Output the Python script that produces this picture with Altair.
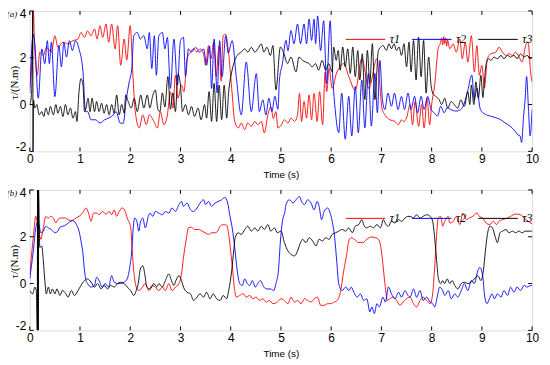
import altair as alt
import pandas as pd

SERIES = ["τ1", "τ2", "τ3"]
COLORS = ["#ff0000", "#0000ff", "#000000"]
X_TICKS = list(range(0, 11))
Y_TICKS = [-2, 0, 2, 4]

# ---------- panel (a): (time, torque) ----------
A_TAU1 = [(0.00,0.77),(0.04,1.8),(0.07,4.0),(0.10,2.38),(0.15,1.25),(0.20,2.24),(0.27,2.10),(0.33,2.45),(0.43,2.24),(0.50,2.94),(0.56,2.45),(0.66,2.66),(0.76,2.59),(0.86,2.73),(0.96,2.80),(1.02,3.08),(1.09,2.87),(1.15,3.15),(1.22,2.94),(1.29,3.23),(1.34,2.80),(1.40,3.37),(1.45,2.87),(1.52,3.44),(1.57,2.66),(1.63,3.44),(1.70,2.38),(1.75,3.37),(1.81,1.68),(1.88,2.80),(1.93,1.90),(2.00,3.37),(2.05,1.39),(2.10,-0.30),(2.18,-1.00),(2.25,-0.44),(2.32,-0.86),(2.38,-0.44),(2.47,-0.72),(2.54,-1.00),(2.60,-0.30),(2.67,-0.86),(2.74,-0.44),(2.80,0.55),(2.85,-0.15),(2.90,1.25),(2.95,0.27),(3.02,0.83),(3.07,0.55),(3.13,1.96),(3.20,2.24),(3.26,2.38),(3.33,2.24),(3.39,2.38),(3.46,2.17),(3.50,1.68),(3.56,2.52),(3.61,1.96),(3.66,2.66),(3.71,1.20),(3.77,2.52),(3.81,1.00),(3.85,2.94),(3.90,3.00),(3.95,2.38),(4.02,0.69),(4.08,-0.72),(4.15,-1.00),(4.21,-0.79),(4.28,-1.07),(4.34,-0.79),(4.41,-0.93),(4.48,-0.72),(4.54,-0.86),(4.61,-0.72),(4.67,-1.21),(4.74,-0.44),(4.80,-0.10),(4.85,-0.60),(4.90,-0.30),(4.94,-1.00),(5.01,-0.86),(5.07,-0.65),(5.14,-0.79),(5.20,-0.58),(5.27,-0.72),(5.33,-0.44),(5.37,0.48),(5.41,-0.72),(5.46,0.13),(5.51,-0.58),(5.56,0.41),(5.61,-0.65),(5.66,0.48),(5.72,-0.72),(5.77,0.55),(5.83,-0.86),(5.88,1.39),(5.91,0.55),(5.96,1.54),(6.02,0.69),(6.10,1.30),(6.17,1.60),(6.25,1.75),(6.35,1.20),(6.48,0.62),(6.61,1.96),(6.75,0.69),(6.91,1.96),(6.97,0.80),(7.01,-0.15),(7.07,-0.44),(7.17,-0.65),(7.27,-0.72),(7.34,-0.86),(7.40,-0.65),(7.44,-0.72),(7.50,-0.58),(7.57,0.00),(7.62,-0.86),(7.67,0.13),(7.74,-0.93),(7.80,0.00),(7.85,-1.00),(7.91,0.27),(7.96,-0.86),(8.00,0.00),(8.06,0.83),(8.13,2.38),(8.18,2.66),(8.20,2.85),(8.22,2.55),(8.24,2.90),(8.26,2.60),(8.28,2.85),(8.30,2.50),(8.32,2.75),(8.36,2.38),(8.43,2.59),(8.49,2.24),(8.56,2.80),(8.61,1.96),(8.67,2.66),(8.72,1.82),(8.79,2.94),(8.85,1.39),(8.90,2.52),(8.95,1.25),(9.00,1.68),(9.05,0.70),(9.11,1.96),(9.18,2.17),(9.28,2.24),(9.34,2.45),(9.41,2.24),(9.48,2.10),(9.54,2.17),(9.61,2.10),(9.67,2.24),(9.74,2.03),(9.80,1.82),(9.87,2.52),(9.92,2.66),(9.97,1.39),(10.0,0.97)]

A_TAU2 = [(0.00,0.5),(0.03,2.0),(0.07,3.0),(0.10,2.6),(0.17,0.27),(0.24,2.38),(0.30,1.75),(0.35,2.73),(0.39,1.75),(0.43,2.66),(0.50,0.34),(0.58,2.52),(0.63,1.61),(0.68,2.66),(0.73,2.03),(0.79,2.73),(0.85,2.31),(0.91,2.73),(0.98,2.38),(1.06,1.39),(1.11,-0.30),(1.15,-0.30),(1.22,-0.65),(1.31,-0.65),(1.40,-0.79),(1.49,-0.65),(1.57,-0.58),(1.66,-0.44),(1.72,-0.30),(1.80,-0.79),(1.86,-0.80),(1.92,0.20),(1.98,0.97),(2.03,1.50),(2.07,2.94),(2.14,3.08),(2.20,2.80),(2.27,2.94),(2.34,2.38),(2.38,3.08),(2.43,1.54),(2.48,2.94),(2.52,1.25),(2.57,2.94),(2.64,3.08),(2.69,2.38),(2.74,2.87),(2.80,0.69),(2.87,2.80),(2.94,0.83),(3.00,2.73),(3.06,2.87),(3.10,1.20),(3.16,2.38),(3.22,2.24),(3.30,2.45),(3.38,2.24),(3.46,2.38),(3.52,1.68),(3.58,2.50),(3.62,0.69),(3.67,2.80),(3.73,0.50),(3.78,2.73),(3.83,1.20),(3.90,2.94),(3.95,2.20),(4.03,2.73),(4.11,1.20),(4.21,-0.44),(4.31,1.82),(4.41,-0.30),(4.51,1.32),(4.57,-0.30),(4.64,0.20),(4.70,-0.44),(4.76,0.27),(4.82,-0.30),(4.88,0.35),(4.94,-0.20),(4.97,1.05),(5.03,1.75),(5.10,2.74),(5.14,2.30),(5.20,3.16),(5.26,2.60),(5.33,3.44),(5.39,2.60),(5.46,3.44),(5.51,2.60),(5.56,3.65),(5.61,2.74),(5.66,3.65),(5.69,2.60),(5.73,3.79),(5.79,2.31),(5.85,3.58),(5.91,0.90),(5.98,3.58),(6.02,1.61),(6.08,-0.21),(6.15,-1.20),(6.21,0.49),(6.28,-1.48),(6.35,0.35),(6.41,-1.34),(6.48,0.77),(6.54,-1.20),(6.61,1.05),(6.67,-0.99),(6.74,1.33),(6.80,-0.92),(6.87,1.33),(6.92,-0.35),(6.97,1.89),(7.02,0.21),(7.07,-0.21),(7.13,0.49),(7.20,-0.07),(7.26,0.49),(7.33,-0.21),(7.40,0.35),(7.46,-0.21),(7.53,0.49),(7.59,-0.21),(7.66,0.35),(7.72,-0.35),(7.79,0.35),(7.85,-0.21),(7.92,0.35),(7.99,-0.21),(8.05,-0.35),(8.12,-0.49),(8.18,-0.07),(8.25,-0.35),(8.31,-0.14),(8.38,-0.21),(8.48,-0.28),(8.58,-0.21),(8.64,0.00),(8.72,0.60),(8.80,1.26),(8.85,0.20),(8.90,0.70),(8.97,-0.21),(9.07,-0.42),(9.17,-0.49),(9.27,-0.56),(9.36,-0.63),(9.46,-0.78),(9.56,-0.92),(9.66,-1.13),(9.72,-1.30),(9.76,-1.34),(9.79,-1.62),(9.83,-0.50),(9.86,0.20),(9.89,1.20),(9.93,-0.30),(9.96,-1.34),(10.0,-0.20)]

A_TAU3 = [(0.00,0.00),(0.03,0.30),(0.05,1.60),(0.060,4.0),(0.065,-2.0),(0.075,0.20),(0.10,-0.15),(0.14,0.00),(0.19,-0.44),(0.24,-0.30),(0.28,-0.51),(0.32,-0.15),(0.37,-0.44),(0.41,-0.08),(0.47,-0.44),(0.52,0.00),(0.56,-0.37),(0.61,-0.08),(0.66,-0.51),(0.71,0.00),(0.76,-0.44),(0.81,-0.15),(0.86,-0.58),(0.91,-0.30),(0.94,-0.72),(0.98,0.55),(1.02,1.11),(1.06,0.83),(1.09,-0.30),(1.12,-0.15),(1.16,0.27),(1.20,-0.30),(1.24,0.27),(1.29,-0.30),(1.33,0.13),(1.38,-0.30),(1.43,0.06),(1.48,-0.37),(1.53,0.00),(1.58,-0.44),(1.63,0.00),(1.68,-0.37),(1.73,0.41),(1.78,-0.44),(1.83,0.00),(1.88,-0.37),(1.91,0.41),(1.96,0.13),(2.02,-0.15),(2.08,0.27),(2.14,-0.30),(2.21,0.41),(2.27,-0.15),(2.34,0.41),(2.39,-0.15),(2.45,0.40),(2.50,0.62),(2.55,-0.20),(2.59,-0.30),(2.64,0.50),(2.69,-0.10),(2.75,1.20),(2.80,-0.20),(2.85,0.50),(2.90,-0.30),(2.95,1.30),(3.00,0.83),(3.04,-0.30),(3.10,0.00),(3.16,-0.44),(3.22,-0.08),(3.28,-0.51),(3.35,-0.15),(3.41,-0.65),(3.48,0.00),(3.52,-0.58),(3.57,0.55),(3.62,-0.72),(3.67,0.90),(3.72,-0.72),(3.77,0.83),(3.82,-0.65),(3.87,0.83),(3.92,-0.58),(3.96,0.55),(4.02,1.39),(4.07,1.82),(4.13,2.10),(4.21,2.24),(4.28,2.38),(4.34,2.24),(4.41,2.45),(4.48,2.24),(4.54,2.38),(4.61,2.59),(4.66,2.24),(4.72,2.45),(4.79,2.10),(4.84,2.52),(4.90,0.63),(4.99,2.46),(5.06,2.17),(5.13,1.75),(5.20,2.03),(5.30,1.40),(5.36,2.03),(5.43,1.89),(5.49,1.82),(5.56,1.75),(5.62,1.61),(5.69,1.75),(5.75,1.47),(5.82,1.89),(5.89,1.47),(5.95,1.75),(6.02,1.40),(6.05,2.46),(6.10,1.89),(6.14,2.31),(6.18,1.47),(6.23,2.46),(6.28,1.61),(6.33,2.38),(6.38,1.33),(6.43,2.46),(6.48,1.19),(6.53,2.31),(6.57,1.05),(6.62,2.17),(6.67,0.21),(6.72,2.31),(6.77,0.91),(6.82,2.60),(6.87,0.21),(6.94,2.31),(6.99,2.46),(7.03,2.53),(7.10,2.31),(7.15,2.60),(7.20,2.38),(7.25,2.60),(7.30,2.31),(7.35,2.46),(7.40,2.10),(7.45,2.60),(7.50,1.61),(7.55,2.67),(7.59,1.40),(7.64,2.74),(7.69,1.05),(7.74,2.88),(7.79,1.19),(7.84,2.74),(7.89,0.49),(7.94,2.03),(7.99,0.80),(8.02,0.49),(8.08,0.35),(8.15,0.21),(8.20,0.00),(8.26,0.27),(8.32,-0.15),(8.39,0.13),(8.45,0.00),(8.52,-0.15),(8.58,0.20),(8.65,-0.08),(8.72,0.55),(8.76,0.00),(8.79,0.83),(8.84,0.00),(8.88,0.97),(8.93,0.27),(8.98,1.25),(9.02,0.30),(9.05,1.00),(9.08,1.68),(9.13,1.96),(9.18,1.89),(9.24,2.03),(9.31,1.96),(9.38,2.10),(9.44,1.96),(9.51,2.10),(9.57,2.03),(9.64,2.10),(9.70,1.96),(9.77,2.17),(9.84,2.03),(9.90,2.10),(9.97,1.96),(10.0,2.03)]

# ---------- panel (b): (time, torque) ----------
B_TAU1 = [(0.00,0.41),(0.07,1.96),(0.12,2.87),(0.17,2.38),(0.22,1.89),(0.27,2.38),(0.32,2.87),(0.37,2.80),(0.41,2.87),(0.47,2.80),(0.52,2.59),(0.56,2.73),(0.63,2.80),(0.70,2.80),(0.76,2.73),(0.83,2.69),(0.89,2.76),(0.96,2.85),(1.02,2.94),(1.07,3.08),(1.12,3.23),(1.17,3.01),(1.22,2.66),(1.27,3.01),(1.33,3.01),(1.38,2.94),(1.45,3.08),(1.52,2.97),(1.58,3.08),(1.63,2.94),(1.68,3.15),(1.73,2.87),(1.78,3.08),(1.84,3.23),(1.90,3.08),(1.94,2.80),(2.01,2.38),(2.04,1.39),(2.07,0.55),(2.12,-0.15),(2.17,-0.30),(2.24,-0.15),(2.30,0.00),(2.37,-0.30),(2.43,-0.08),(2.50,-0.15),(2.57,-0.30),(2.64,-0.15),(2.70,-0.30),(2.77,0.00),(2.83,-0.30),(2.90,-0.15),(2.97,0.00),(3.02,0.41),(3.06,1.11),(3.11,1.82),(3.16,2.38),(3.22,2.41),(3.28,2.31),(3.36,2.31),(3.43,2.24),(3.49,2.17),(3.56,2.10),(3.62,2.17),(3.69,2.17),(3.74,2.24),(3.79,2.45),(3.85,2.52),(3.92,2.49),(3.96,2.10),(4.00,1.39),(4.04,0.55),(4.08,-0.30),(4.11,-0.58),(4.18,-0.51),(4.25,-0.44),(4.31,-0.58),(4.38,-0.51),(4.44,-0.65),(4.51,-0.58),(4.57,-0.72),(4.64,-0.65),(4.71,-0.79),(4.77,-0.72),(4.84,-0.86),(4.93,-0.79),(5.00,-0.65),(5.07,-0.72),(5.14,-0.86),(5.20,-0.58),(5.27,-0.79),(5.33,-0.72),(5.40,-0.86),(5.47,-0.65),(5.53,-0.72),(5.60,-0.79),(5.66,-0.65),(5.73,-0.58),(5.79,-0.93),(5.86,-0.93),(5.93,-0.86),(5.99,-0.86),(6.06,-0.79),(6.12,-0.72),(6.19,-0.30),(6.25,0.55),(6.31,1.25),(6.35,1.82),(6.40,1.96),(6.46,1.89),(6.55,1.75),(6.63,1.75),(6.71,1.89),(6.79,1.99),(6.88,1.96),(6.94,1.89),(6.99,1.54),(7.03,0.83),(7.07,0.00),(7.12,-0.72),(7.17,-0.65),(7.24,-0.58),(7.30,-0.72),(7.37,-0.93),(7.43,-0.79),(7.50,-0.65),(7.57,-0.58),(7.64,-0.86),(7.70,-1.00),(7.77,-0.72),(7.83,-0.58),(7.90,-0.72),(7.97,-0.86),(8.02,-0.44),(8.06,0.69),(8.10,2.10),(8.13,2.80),(8.18,2.87),(8.22,2.45),(8.26,2.66),(8.33,2.87),(8.36,2.59),(8.43,2.66),(8.49,2.87),(8.56,2.52),(8.62,3.01),(8.69,2.73),(8.75,2.80),(8.82,2.87),(8.90,3.01),(8.95,2.87),(9.02,2.80),(9.08,2.59),(9.16,2.52),(9.23,2.66),(9.29,2.52),(9.34,2.66),(9.41,2.73),(9.51,2.80),(9.57,2.87),(9.67,2.97),(9.77,2.94),(9.87,2.73),(9.97,2.59),(10.0,2.55)]

B_TAU2 = [(0.00,0.20),(0.07,1.39),(0.12,2.38),(0.16,2.66),(0.19,2.45),(0.22,2.17),(0.27,2.24),(0.32,2.45),(0.37,2.38),(0.43,2.31),(0.50,2.17),(0.56,2.24),(0.60,2.41),(0.66,2.45),(0.73,2.52),(0.79,2.63),(0.86,2.69),(0.93,2.52),(0.98,2.24),(1.02,1.82),(1.06,1.25),(1.09,0.55),(1.12,0.13),(1.15,0.00),(1.22,-0.15),(1.29,-0.08),(1.33,0.27),(1.38,0.13),(1.44,-0.15),(1.50,0.00),(1.57,-0.15),(1.63,0.34),(1.68,0.06),(1.75,0.00),(1.81,0.00),(1.88,0.06),(1.94,0.20),(1.99,0.69),(2.03,1.39),(2.06,2.38),(2.09,2.80),(2.14,2.59),(2.17,2.24),(2.20,2.59),(2.25,2.80),(2.30,2.38),(2.36,2.87),(2.40,3.01),(2.45,2.87),(2.50,3.08),(2.57,3.01),(2.64,2.94),(2.70,3.08),(2.77,3.01),(2.83,3.23),(2.90,3.08),(2.97,3.37),(3.02,3.51),(3.06,3.30),(3.13,3.44),(3.20,3.15),(3.26,3.08),(3.33,3.23),(3.39,3.44),(3.46,3.58),(3.50,3.37),(3.56,3.51),(3.62,3.30),(3.69,3.44),(3.75,3.51),(3.82,3.58),(3.88,3.68),(3.94,3.44),(3.98,2.94),(4.03,2.38),(4.08,1.54),(4.13,0.55),(4.18,0.00),(4.23,-0.08),(4.28,0.20),(4.33,0.00),(4.38,-0.08),(4.43,0.13),(4.49,-0.15),(4.54,0.00),(4.59,0.13),(4.66,-0.15),(4.72,-0.23),(4.79,-0.23),(4.86,-0.30),(4.90,0.00),(4.95,0.55),(4.99,1.82),(5.03,2.66),(5.08,3.08),(5.10,3.37),(5.17,3.58),(5.24,3.44),(5.30,3.58),(5.37,3.72),(5.41,3.51),(5.47,3.37),(5.53,3.58),(5.60,3.44),(5.66,3.15),(5.72,3.51),(5.76,3.30),(5.81,2.73),(5.86,3.08),(5.93,3.23),(5.98,3.01),(6.02,2.66),(6.07,1.96),(6.11,0.97),(6.15,0.00),(6.22,-0.30),(6.29,-0.15),(6.35,-0.30),(6.40,-0.15),(6.45,-0.37),(6.52,-0.58),(6.58,-0.44),(6.65,-0.72),(6.71,-0.65),(6.77,-1.21),(6.81,-1.00),(6.86,-1.28),(6.91,-0.86),(6.96,-1.00),(7.03,-0.58),(7.08,-0.79),(7.14,-0.15),(7.20,-0.44),(7.27,-0.65),(7.34,-0.37),(7.40,-0.58),(7.47,-0.30),(7.53,-0.51),(7.57,-0.58),(7.64,-0.23),(7.70,-0.58),(7.77,-0.30),(7.83,-0.72),(7.90,-0.58),(7.97,-0.79),(8.02,-0.86),(8.06,-1.00),(8.11,-0.58),(8.16,-0.15),(8.22,-0.30),(8.26,-0.51),(8.33,-0.30),(8.39,-0.65),(8.46,-0.44),(8.52,-0.58),(8.59,-0.30),(8.65,0.00),(8.72,-0.30),(8.79,0.13),(8.85,0.00),(8.92,0.55),(8.96,0.69),(9.02,0.27),(9.05,-0.44),(9.10,-0.86),(9.15,-0.65),(9.20,-0.44),(9.25,-0.65),(9.31,-0.44),(9.38,-0.58),(9.44,-0.30),(9.51,-0.51),(9.57,-0.15),(9.64,-0.37),(9.70,-0.15),(9.77,-0.30),(9.84,-0.08),(9.90,-0.15),(9.97,-0.08),(10.0,-0.10)]

B_TAU3 = [(0.00,-0.30),(0.06,-0.44),(0.10,-0.15),(0.13,-0.30),(0.150,-2.0),(0.155,4.0),(0.160,-2.0),(0.165,4.0),(0.170,-2.0),(0.175,4.0),(0.20,1.54),(0.24,1.60),(0.27,0.97),(0.30,0.13),(0.33,-0.44),(0.37,-0.15),(0.41,-0.44),(0.45,-0.23),(0.50,-0.44),(0.54,-0.23),(0.60,-0.51),(0.65,-0.30),(0.72,-0.44),(0.76,-0.58),(0.83,-0.30),(0.89,-0.51),(0.96,-0.30),(1.02,-0.08),(1.09,0.13),(1.15,0.20),(1.22,0.06),(1.29,-0.15),(1.35,0.00),(1.42,-0.23),(1.48,-0.08),(1.55,-0.23),(1.61,-0.08),(1.68,-0.15),(1.75,0.00),(1.81,0.06),(1.88,0.00),(1.94,-0.15),(2.01,-0.30),(2.07,-0.51),(2.12,-0.30),(2.16,0.00),(2.20,0.62),(2.25,0.76),(2.29,0.41),(2.33,-0.15),(2.40,-0.23),(2.47,0.00),(2.53,-0.15),(2.57,0.00),(2.64,-0.15),(2.70,0.13),(2.77,0.41),(2.82,0.13),(2.87,-0.08),(2.91,0.13),(2.97,0.34),(3.02,0.13),(3.06,-0.15),(3.13,-0.37),(3.20,-0.44),(3.26,-0.72),(3.33,-0.58),(3.39,-0.44),(3.46,-0.58),(3.52,-0.37),(3.59,-0.65),(3.65,-0.44),(3.72,-0.65),(3.79,-0.72),(3.85,-0.51),(3.92,-0.65),(3.96,-0.30),(4.02,0.55),(4.06,1.39),(4.09,1.96),(4.15,2.17),(4.21,2.10),(4.28,2.31),(4.34,2.45),(4.41,2.24),(4.48,2.38),(4.54,2.24),(4.61,2.45),(4.67,2.31),(4.74,2.52),(4.80,2.24),(4.87,2.38),(4.93,2.17),(5.00,2.24),(5.07,1.75),(5.14,1.39),(5.20,1.25),(5.27,1.18),(5.33,1.39),(5.39,1.75),(5.43,1.89),(5.50,1.75),(5.56,1.96),(5.63,1.82),(5.70,1.61),(5.76,1.89),(5.83,1.82),(5.89,1.96),(5.96,1.89),(6.02,2.10),(6.09,2.17),(6.15,2.24),(6.22,2.31),(6.29,2.24),(6.35,2.38),(6.42,2.17),(6.48,2.45),(6.55,2.52),(6.61,2.73),(6.66,2.45),(6.71,2.38),(6.78,2.45),(6.84,2.38),(6.91,2.52),(6.98,2.38),(7.04,2.73),(7.09,2.52),(7.14,2.45),(7.20,2.66),(7.27,2.59),(7.34,2.73),(7.40,2.66),(7.47,2.80),(7.53,2.87),(7.57,2.87),(7.64,2.80),(7.70,2.94),(7.77,2.80),(7.83,2.87),(7.90,2.94),(7.97,2.87),(8.02,2.66),(8.06,1.96),(8.10,0.97),(8.13,0.27),(8.18,0.00),(8.22,0.13),(8.26,0.00),(8.31,0.20),(8.36,0.00),(8.41,0.13),(8.46,-0.08),(8.52,-0.23),(8.59,0.00),(8.65,0.06),(8.72,0.00),(8.79,0.06),(8.85,0.20),(8.92,0.34),(8.98,0.13),(9.03,0.55),(9.07,1.39),(9.11,2.10),(9.16,2.45),(9.21,2.38),(9.27,1.96),(9.31,1.75),(9.36,2.17),(9.41,2.24),(9.48,2.31),(9.54,2.17),(9.61,2.24),(9.67,2.17),(9.74,2.24),(9.80,2.17),(9.87,2.24),(9.97,2.24),(10.0,2.24)]

W, H = 508, 142
TICK = 4


def make_df(series_pairs):
    frames = []
    for name, pairs in zip(SERIES, series_pairs):
        frames.append(pd.DataFrame({
            "t": [p[0] for p in pairs],
            "v": [p[1] for p in pairs],
            "s": name,
            "o": list(range(len(pairs))),
        }))
    return pd.concat(frames, ignore_index=True)


x_enc = alt.X("t:Q", scale=alt.Scale(domain=[0, 10], nice=False, zero=False),
              axis=alt.Axis(values=X_TICKS, labelExpr="datum.value", title="Time (s)",
                            ticks=False, domain=False, grid=False, labelFlush=False,
                            labelFontSize=12, labelPadding=2, labelFont="Liberation Sans",
                            titleFontSize=10, titleFont="Liberation Sans",
                            titleFontWeight="normal", titlePadding=5))
y_enc = alt.Y("v:Q", scale=alt.Scale(domain=[-2, 4], nice=False, zero=False),
              axis=alt.Axis(values=Y_TICKS, labelExpr="datum.value", title="τ/(N.m)",
                            ticks=False, domain=False, grid=False,
                            labelFlush=True, labelFlushOffset=2,
                            labelFontSize=12, labelPadding=4, labelFont="Liberation Sans",
                            titleFontSize=11, titleFont="Liberation Serif",
                            titleFontWeight="normal", titleX=-10, titleY=72))


def panel(series_pairs, tag):
    df = make_df(series_pairs)
    lines = alt.Chart(df).mark_line(strokeWidth=0.9, clip=True, interpolate="monotone").encode(
        x=x_enc,
        y=y_enc,
        color=alt.Color("s:N", scale=alt.Scale(domain=SERIES, range=COLORS),
                        legend=alt.Legend(orient="none", legendX=319, legendY=8,
                                          direction="horizontal", title=None,
                                          symbolSize=1600, symbolStrokeWidth=1,
                                          labelFont="Liberation Serif",
                                          labelFontStyle="italic", labelFontSize=12,
                                          labelOffset=4, columnPadding=9, padding=0)),
        order="o:Q",
    )
    xt = alt.Chart(pd.DataFrame({"t": X_TICKS}))
    yt = alt.Chart(pd.DataFrame({"v": Y_TICKS}))
    tb = xt.mark_rule(stroke="black", strokeWidth=1).encode(x=x_enc, y=alt.value(H), y2=alt.value(H - TICK))
    tt = xt.mark_rule(stroke="black", strokeWidth=1).encode(x=x_enc, y=alt.value(0), y2=alt.value(TICK))
    tl = yt.mark_rule(stroke="black", strokeWidth=1).encode(y=y_enc, x=alt.value(0), x2=alt.value(TICK))
    tr = yt.mark_rule(stroke="black", strokeWidth=1).encode(y=y_enc, x=alt.value(W), x2=alt.value(W - TICK))
    lab = alt.Chart(pd.DataFrame({"lab": [tag]})).mark_text(
        font="Liberation Serif", fontStyle="italic", fontSize=9, align="center", baseline="middle"
    ).encode(text="lab:N", x=alt.value(-18), y=alt.value(3))
    return alt.layer(lines, tb, tt, tl, tr, lab).properties(width=W, height=H)


chart = alt.vconcat(
    panel([A_TAU1, A_TAU2, A_TAU3], "(a)"),
    panel([B_TAU1, B_TAU2, B_TAU3], "(b)"),
    spacing=6,
).resolve_legend(color="independent").properties(
    padding={"left": -2, "top": -3, "right": 2, "bottom": 0}
).configure_view(stroke="black", strokeWidth=1).configure(font="Liberation Sans")

chart.save("out.html", embed_options={"renderer": "svg", "actions": False})
